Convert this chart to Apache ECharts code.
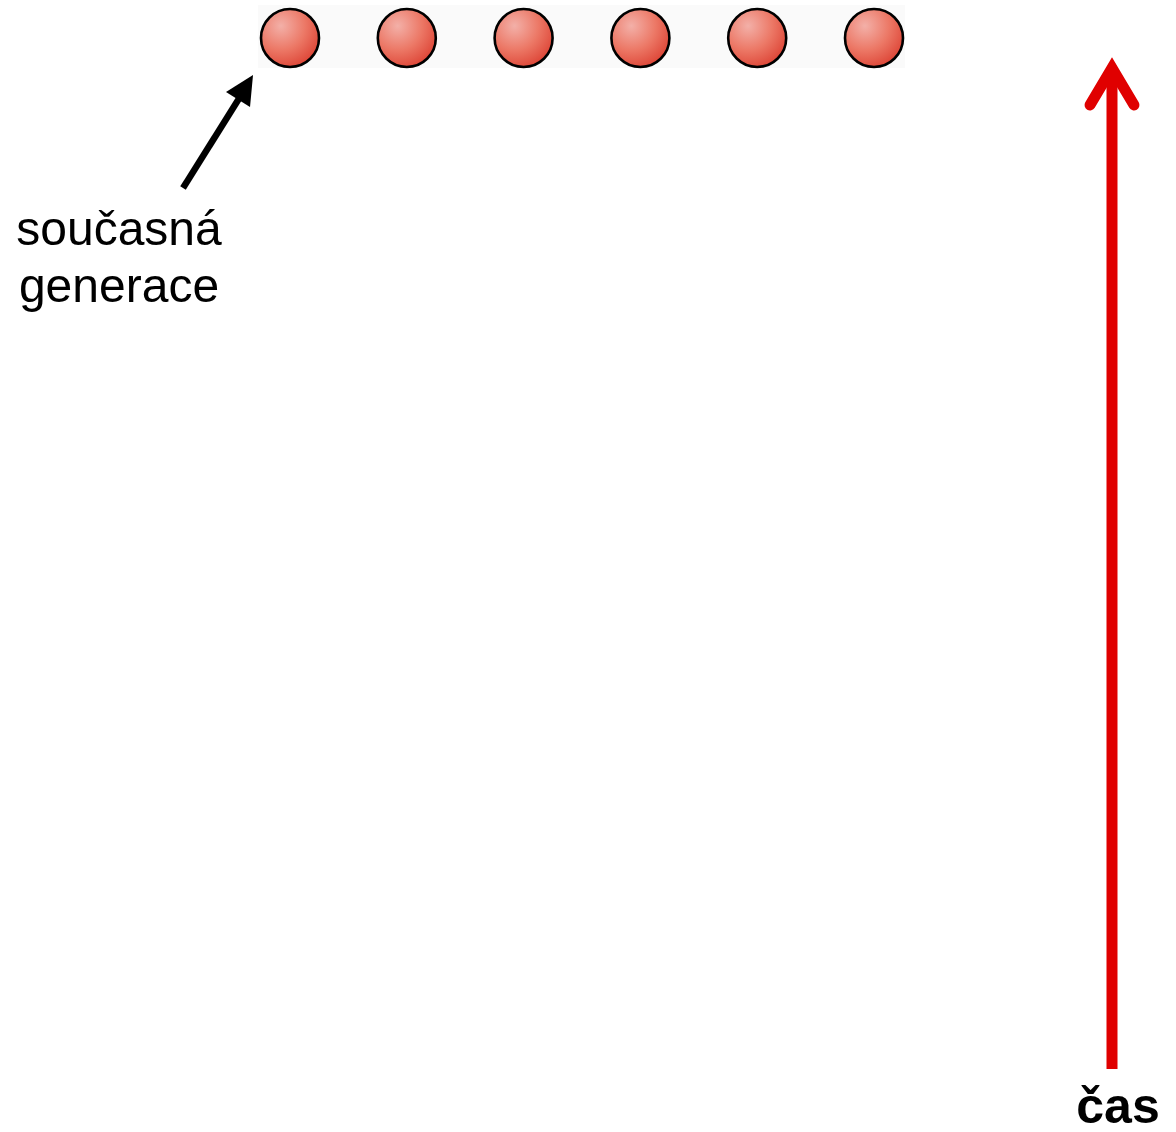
<!DOCTYPE html>
<html>
<head>
<meta charset="utf-8">
<script src="https://cdn.jsdelivr.net/npm/echarts@6/dist/echarts.min.js"></script>
<style>
html,body{margin:0;padding:0;background:#fff;}
#chart{width:1176px;height:1132px;}
</style>
</head>
<body>
<div id="chart"></div>
<script>
// Data
var individuals = ['1', '2', '3', '4', '5', '6'];
var generationTime = [10, 10, 10, 10, 10, 10];   // current generation sits at the top of the time axis
var timeRange = [0, 10];
var labelCurrent = 'současná\ngenerace';
var labelTime = 'čas';

var chart = echarts.init(document.getElementById('chart'), null, {renderer: 'canvas'});

var sphereColor = {
  type: 'radial', x: 0.35, y: 0.3, r: 0.8,
  colorStops: [
    {offset: 0, color: '#f3b0a8'},
    {offset: 0.5, color: '#ec7866'},
    {offset: 1, color: '#da3a2c'}
  ]
};

var option = {
  backgroundColor: '#ffffff',
  animation: false,
  grid: {left: 231.6, right: 243.6, top: 38, bottom: 64},
  xAxis: {
    type: 'category', data: individuals, boundaryGap: true,
    show: false
  },
  yAxis: {
    type: 'value', min: timeRange[0], max: timeRange[1],
    show: false
  },
  series: [{
    type: 'scatter',
    data: generationTime,
    symbol: 'circle',
    symbolSize: 58,
    itemStyle: {color: sphereColor, borderColor: '#000', borderWidth: 2.6, opacity: 1},
    z: 5
  }],
  graphic: [
    {type: 'rect', shape: {x: 258, y: 5, width: 647, height: 63}, style: {fill: '#fafafa'}, z: -10, silent: true},
    // black arrow
    {type: 'line', shape: {x1: 183, y1: 188, x2: 240, y2: 97}, style: {stroke: '#000', lineWidth: 6.5}, z: 10},
    {type: 'polygon', shape: {points: [[253, 75], [226, 92], [250, 107]]}, style: {fill: '#000'}, z: 10},
    {type: 'text', style: {text: labelCurrent, x: 119, y: 203, textAlign: 'center', textVerticalAlign: 'top',
      font: '48px "Liberation Sans", Arial, sans-serif', lineHeight: 57, fill: '#000'}, z: 10},
    // red time arrow
    {type: 'line', shape: {x1: 1112, y1: 1069, x2: 1112, y2: 72}, style: {stroke: '#e00000', lineWidth: 11}, z: 10},
    {type: 'polyline', shape: {points: [[1090, 105], [1112, 68], [1134, 105]]},
      style: {stroke: '#e00000', lineWidth: 11, lineCap: 'round', lineJoin: 'miter', fill: null}, z: 10},
    {type: 'text', style: {text: labelTime, x: 1118, y: 1134, textAlign: 'center', textVerticalAlign: 'bottom',
      font: 'bold 50px "Liberation Sans", Arial, sans-serif', fill: '#000'}, z: 10}
  ]
};
chart.setOption(option);
</script>
</body>
</html>
